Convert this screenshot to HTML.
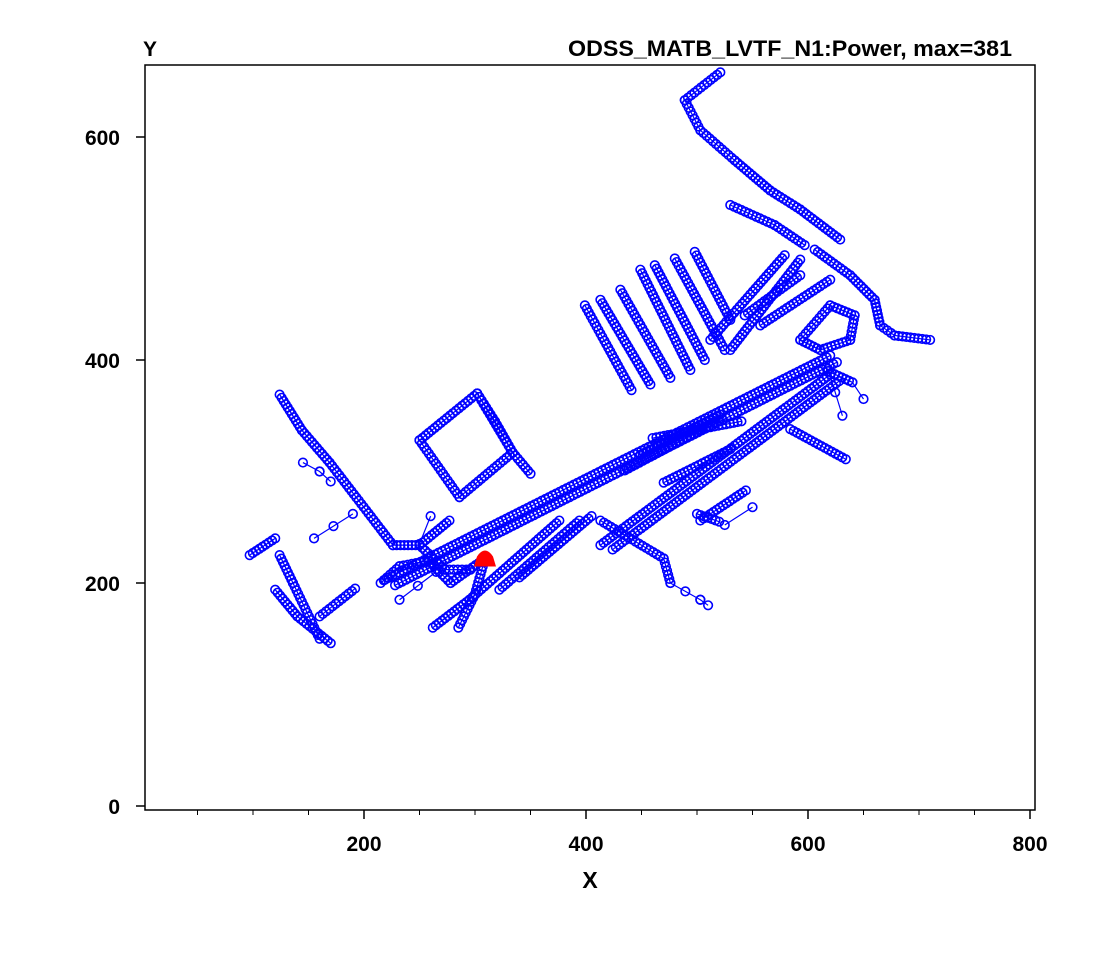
<!DOCTYPE html>
<html><head><meta charset="utf-8"><style>
body{margin:0;background:#fff;}
svg text{font-family:"Liberation Sans",sans-serif;font-weight:bold;}
</style></head><body>
<svg id="chart" width="1107" height="955" xmlns="http://www.w3.org/2000/svg">
<rect x="0" y="0" width="1107" height="955" fill="#fff"/>
<text x="143" y="56" font-size="21">Y</text>
<text x="1012" y="56" font-size="22" text-anchor="end" textLength="444" lengthAdjust="spacingAndGlyphs">ODSS_MATB_LVTF_N1:Power, max=381</text>
<text x="590" y="888" font-size="23" text-anchor="middle">X</text>
<g id="plot"></g>
<rect x="145" y="65" width="890" height="745" fill="none" stroke="#000" stroke-width="1.5"/>
</svg>
<script>
const xTicks=[200,400,600,800];
const yTicks=[0,200,400,600];
const xMinor=[50,100,150,250,300,350,450,500,550,650,700,750];
// dense network branches (data units): [x,y,x,y,...]
const trunk1=[219,203,620,404];
const trunk2=[228,198,626,398];
const trunk3=[413,234,620,387];
const trunk4=[424,230,628,381];
const topBranch=[521,658,489,633,503,606,534,579,566,552,593,535,629,508];
const rightBranch=[606,499,638,476,660,454,665,431,678,422,710,418];
const upperRow=[530,539,570,521,597,503];
const row1=[512,418,579,494];
const row2=[530,409,593,490];
const row3=[543,440,593,476];
const row4=[557,431,620,472];
const loopBlob=[593,418,620,449,642,440,638,418,611,409,593,418];
const comb1=[399,449,441,373];
const comb2=[413,454,458,378];
const comb3=[431,463,476,384];
const comb4=[449,481,494,391];
const comb5=[462,485,507,400];
const comb6=[480,491,525,409];
const comb7=[498,497,530,436];
const leftLong=[124,369,144,337,169,308,226,234,250,234,273,212,296,212];
const leftLink=[250,234,277,256];
const square=[250,328,302,370,334,317,286,277,250,328];
const sqLink=[302,370,318,345,334,317,350,298];
const blCluster1=[120,194,140,170,170,146];
const blCluster2=[124,225,136,200,160,150];
const blCluster3=[160,170,192,195];
const blCluster4=[97,225,120,240];
const triDown=[309,222,300,190,285,160];
const triLeft=[215,200,232,215,258,220,278,200,309,222];
const midA=[295,185,376,256];
const midB=[322,194,394,256];
const midC=[340,205,405,260];
const midD=[262,160,295,185];
const between1=[435,301,503,337];
const between2=[449,315,521,351];
const between3=[460,330,540,345];
const between4=[470,290,530,320];
const belowTrunk=[503,256,544,283];
const downJ=[413,256,470,222,476,200];
const rightCl1=[584,338,634,311];
const rightCl2=[618,390,640,380];
const lowerR=[500,262,520,255];
const denseBranches=[trunk1,trunk2,trunk3,trunk4,topBranch,rightBranch,upperRow,row1,row2,row3,row4,loopBlob,comb1,comb2,comb3,comb4,comb5,comb6,comb7,leftLong,leftLink,square,sqLink,blCluster1,blCluster2,blCluster3,blCluster4,triDown,triLeft,midA,midB,midC,midD,between1,between2,between3,between4,belowTrunk,downJ,rightCl1,rightCl2,lowerR];
// sparse branches (few markers, thin line)
const sparse1=[476,200,503,185,510,180];
const sparse2=[145,308,160,300,170,291];
const sparse3=[155,240,190,262];
const sparse4=[232,185,265,210];
const sparse5=[525,252,550,268];
const sparse6=[618,392,631,350];
const sparse7=[640,380,650,365];
const sparse8=[250,235,260,260];
const sparseBranches=[sparse1,sparse2,sparse3,sparse4,sparse5,sparse6,sparse7,sparse8];
const source=[309,222];

const sx=v=>142+v*1.11;
const sy=v=>806-v*1.115;
const NS="http://www.w3.org/2000/svg";
const svg=document.getElementById('chart');
const g=document.getElementById('plot');
function mk(t,a){const e=document.createElementNS(NS,t);for(const k in a)e.setAttribute(k,a[k]);return e;}
xTicks.forEach(v=>{
 const l=mk('line',{x1:sx(v),x2:sx(v),y1:810,y2:819,stroke:'#000','stroke-width':1.5});
 
 
 svg.appendChild(l);
 const t=mk('text',{x:sx(v),y:851,'font-size':21,'text-anchor':'middle'});t.textContent=v;
 
 
 svg.appendChild(t);
});
xMinor.forEach(v=>{
 const l=mk('line',{x1:sx(v),x2:sx(v),y1:810,y2:815,stroke:'#000','stroke-width':1});
 
 
 svg.appendChild(l);
});
yTicks.forEach(v=>{
 const l=mk('line',{x1:136,x2:145,y1:sy(v),y2:sy(v),stroke:'#000','stroke-width':1.5});
 
 
 svg.appendChild(l);
 const t=mk('text',{x:120,y:sy(v)+8,'font-size':21,'text-anchor':'end'});t.textContent=v;
 
 
 svg.appendChild(t);
});
function drawBranch(b,i,spacing,name){
 let pts=[];for(let k=0;k<b.length;k+=2)pts.push(sx(b[k])+','+sy(b[k+1]));
 const pl=mk('polyline',{points:pts.join(' '),fill:'none',stroke:'#0000ff','stroke-width':1.2});
 
 
 g.appendChild(pl);
 for(let k=0;k+3<b.length;k+=2){
  const x1=sx(b[k]),y1=sy(b[k+1]),x2=sx(b[k+2]),y2=sy(b[k+3]);
  const d=Math.hypot(x2-x1,y2-y1),n=Math.max(1,Math.round(d/spacing));
  for(let j=0;j<=n;j++){
   const c=mk('circle',{cx:x1+(x2-x1)*j/n,cy:y1+(y2-y1)*j/n,r:4.3,fill:'none',stroke:'#0000ff','stroke-width':1.6});
   
   
   g.appendChild(c);
  }
 }
}
denseBranches.forEach((b,i)=>drawBranch(b,i,4,'branch'));
sparseBranches.forEach((b,i)=>drawBranch(b,i,22,'sparse-branch'));
const px=sx(source[0]),py=sy(source[1]);
const tr=mk('path',{d:`M${px-11},${py+8} L${px-8},${py-2} Q${px},${py-14} ${px+8},${py-2} L${px+11},${py+8} Z`,fill:'#ff0000'});


g.appendChild(tr);
</script>
</body></html>
